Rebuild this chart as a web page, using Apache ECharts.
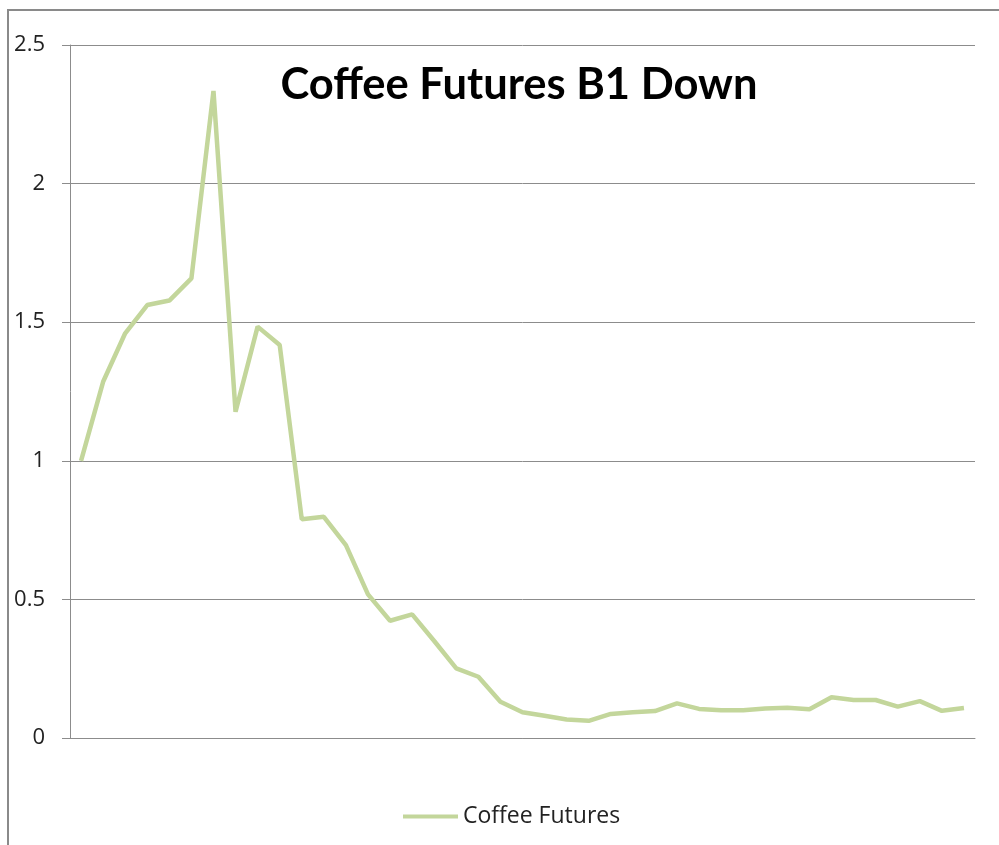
<!DOCTYPE html>
<html>
<head>
<meta charset="utf-8">
<script src="https://cdn.jsdelivr.net/npm/echarts@6/dist/echarts.min.js"></script>
<style>
  html, body { margin: 0; padding: 0; background: #fff; }
  #chart { width: 999px; height: 845px; }
</style>
</head>
<body>
<div id="chart"></div>
<script>
// periods (no labels shown on the x axis)
const periods = Array.from({ length: 41 }, (_, i) => String(i + 1))

// Coffee Futures values
const coffeeFutures = [
  1.0, 1.285, 1.46, 1.562, 1.578, 1.658, 2.334, 1.177, 1.484, 1.418,
  0.789, 0.798, 0.696, 0.518, 0.423, 0.446, 0.35, 0.251, 0.221, 0.131,
  0.093, 0.08, 0.067, 0.062, 0.087, 0.093, 0.097, 0.125, 0.105, 0.1,
  0.1, 0.106, 0.109, 0.104, 0.147, 0.137, 0.137, 0.113, 0.133, 0.098,
  0.108
]

const yTicks = [0, 0.5, 1, 1.5, 2, 2.5]

const chart = echarts.init(document.getElementById('chart'))

const option = {
  backgroundColor: '#fff',
  animation: false,
  title: {
    text: 'Coffee Futures B1 Down',
    left: 514,
    top: 58,
    textAlign: 'center',
    textStyle: {
      fontFamily: 'Lato',
      fontWeight: 'bold',
      fontSize: 43.5,
      color: '#000'
    }
  },
  legend: {
    data: ['Coffee Futures'],
    left: 398,
    top: 800,
    itemWidth: 55,
    itemHeight: 4,
    icon: 'rect',
    textStyle: {
      fontFamily: 'Open Sans',
      fontSize: 23,
      color: '#222'
    }
  },
  grid: {
    left: 70,
    right: 24,
    top: 45,
    bottom: 107,
    containLabel: false
  },
  xAxis: {
    type: 'category',
    data: periods,
    boundaryGap: true,
    axisLine: { show: true, lineStyle: { color: '#8c8c8c', width: 1 } },
    axisTick: { show: false },
    axisLabel: { show: false },
    splitLine: { show: false }
  },
  yAxis: {
    type: 'value',
    min: 0,
    max: 2.5,
    interval: 0.5,
    axisLine: { show: true, lineStyle: { color: '#8c8c8c', width: 1 } },
    axisTick: { show: true, length: 8, lineStyle: { color: '#8c8c8c' } },
    axisLabel: {
      margin: 25,
      fontFamily: 'Open Sans',
      fontSize: 22,
      color: '#222',
      formatter: v => (yTicks.includes(v) ? String(v) : '')
    },
    splitLine: { show: true, lineStyle: { color: '#8c8c8c', width: 1 } }
  },
  graphic: [
    {
      type: 'rect',
      shape: { x: 8, y: 10, width: 1200, height: 1000 },
      style: { fill: 'none', stroke: '#8a8a8a', lineWidth: 2 },
      z: 100
    }
  ],
  series: [
    {
      name: 'Coffee Futures',
      type: 'line',
      data: coffeeFutures,
      showSymbol: false,
      symbol: 'none',
      lineStyle: { color: '#c3d69b', width: 4.5 },
      itemStyle: { color: '#c3d69b' }
    }
  ]
}

chart.setOption(option)
</script>
</body>
</html>
